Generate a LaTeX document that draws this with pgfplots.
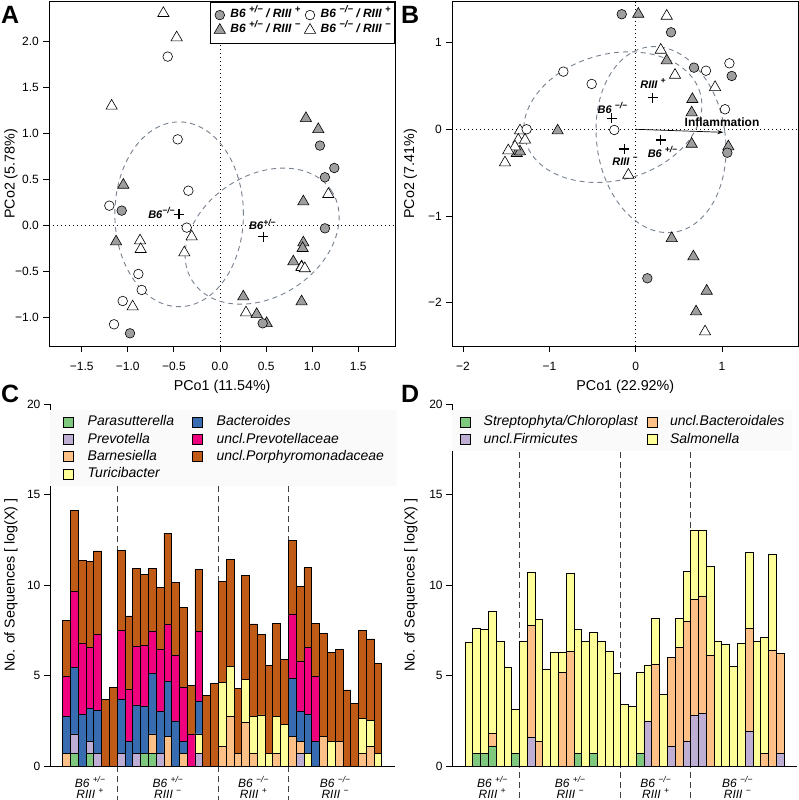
\documentclass[border=0pt]{standalone}
\usepackage{fontspec}
\setmainfont{Liberation Sans}
\usepackage{pgfplots}
\pgfplotsset{compat=1.18}
\usepackage{pgfplotstable}
\usetikzlibrary{arrows.meta}

% RColorBrewer "Accent"
\definecolor{acGreen}{HTML}{7FC97F}
\definecolor{acPurple}{HTML}{BEAED4}
\definecolor{acOrange}{HTML}{FDC086}
\definecolor{acYellow}{HTML}{FFFF99}
\definecolor{acBlue}{HTML}{386CB0}
\definecolor{acPink}{HTML}{F0027F}
\definecolor{acBrown}{HTML}{BF5B17}
\definecolor{ellgray}{RGB}{118,128,142}
\definecolor{ptgray}{HTML}{9E9E9E}

\newcommand{\sups}[1]{\raisebox{0.42em}{\fontsize{8.5}{8.5}\selectfont #1}}
\newcommand{\supl}[1]{\raisebox{0.42em}{\fontsize{9.5}{9.5}\selectfont #1}}

% panel C: segment heights, bottom to top
\pgfplotstableread{
x  g    p    o    t    b    k    r
1  0    0    0.7  0    2.06 2.17 3.12
2  0.7  1.07 0    0    3.68 4.2  4.49
3  0    0    0    0    2.87 3.89 4.6
4  0.7  0.68 0    0    1.81 3.38 4.72
5  0    0.7  0    0    2.39 4.2  4.59
6  0    0    0    0    0    0    3.68
7  0    0    0    0    0    0    4.35
8  0    0.7  0    0    2.98 3.79 4.44
9  0    0    0    0    1.34 2.9  4.05
10 0    0.7  0    0    2.63 3.3  4.29
11 0.7  0    0    0    2.58 3.37 3.94
12 0.7  0    1.07 0    3.35 2.3  3.5
13 0    0.7  0    0    2.3  3.45 3.42
14 0    0    1.62 0    3.04 3.17 5.03
15 0    0    0    0    2.49 3.61 4.05
16 0    0    0.7  0    0.64 3.01 4.42
17 0    0    0    0    0    1.77 2.67
18 0    0.7  0    1.07 1.8  3.87 3.43
19 0    0    0    0    0    0    3.88
20 0    0    0    0    0    0    4.58
21 0    0    1.1  3.5  0    0    5.58
22 0    0    2.72 2.8  0    0    5.91
23 0    0    0.7  0    0    0    3.59
24 0    0    2.39 2.4  0    0    5.74
25 0    0    0.7  2.06 0    0    5.09
26 0    0    0    2.82 0    0    4.45
27 0    0    0    0.7  0    0    4.88
28 0    0    0.7  2.06 0    0    5.12
29 0    0    0    2.32 0    0    3.59
30 0    0    1.62 0    3.22 3.56 4.05
31 0    0.7  0.64 0    1.66 2.77 4.14
32 0    0    0    0.7  2.17 3.68 4.43
33 0    0    0    0    1.34 3.63 2.91
34 0    0    1.62 0    0    0    5.71
35 0    0    0    1.38 0    0    4.88
36 0    0    1.38 0    0    0    5.07
37 0    0    0    0    0    0    4.2
38 0    0    0    0    0    0    3.46
39 0    0    0.7  1.93 0    0    4.85
40 0    0    1.1  1.44 0    0    4.48
41 0    0    0    0.7  0    0    4.97
}\tabC

% panel D: segment heights, bottom to top
\pgfplotstableread{
x  g    p    o    t
1  0    0    0    6.85
2  0.7  0    0    6.89
3  0.7  0    0    6.85
4  1.09 0    0.7  6.76
5  0    0    0    6.9
6  0    0    0    5.47
7  0.7  0    0    2.41
8  0    0    0    6.9
9  0    1.6  6.17 2.95
10 0    0    1.38 6.7
11 0    0    0    5.32
12 0    0    0    6.3
13 0    0    5.19 1.11
14 0    0    6.35 4.29
15 0.7  0    0    6.83
16 0    0    0    6.9
17 0.7  0    0    6.67
18 0    0    0    6.9
19 0    0    0    6.35
20 0    0    0    5.12
21 0    0    0    3.42
22 0    0    0    3.3
23 0.7  0    0    4.45
24 0    2.49 0    3.1
25 0    0    5.64 2.52
26 0    0    0    3.97
27 0    1.1  4.92 0
28 0    0    6.56 1.6
29 0    1.37 6.6  2.8
30 0    2.79 6.42 3.83
31 0    2.9  6.5  3.64
32 0    0    6.1  4.95
33 0    0    0    6.91
34 0    0    0    6.71
35 0    0    0    5.5
36 0    0    0    6.8
37 0    1.93 5.66 4.2
38 0    0    0    6.9
39 0    0    0.7  6.39
40 0    0    6.39 5.31
41 0    0.7  5.5  0
}\tabD

\tikzset{
  ell/.style={ellgray, line width=0.9pt, dash pattern=on 5pt off 4pt},
  zline/.style={black, line width=0.9pt, dash pattern=on 1pt off 3pt},
  grp/.style={black!75, line width=0.9pt, dash pattern=on 6pt off 4pt},
  lab/.style={font=\bfseries\itshape\fontsize{11}{11}\selectfont, inner sep=0pt},
  glab/.style={font=\itshape\fontsize{12}{12}\selectfont, inner sep=0pt, anchor=base},
  leglbl/.style={font=\bfseries\fontsize{25}{25}\selectfont, inner sep=0pt, anchor=base west},
}

\pgfplotsset{
  sqlegend/.style={legend image code/.code={\draw[##1,draw=black,line width=0.6pt] (0pt,-5pt) rectangle (10pt,5pt);}},
  mklegend/.style={legend image code/.code={\draw[##1] plot coordinates {(0pt,0pt)};}},
  pcoa/.style={scale only axis, tick align=outside, major tick length=6pt,
    xtick pos=bottom, ytick pos=left,
    axis line style={line width=0.8pt}, every tick/.style={black,line width=0.8pt},
    ticklabel style={font=\fontsize{12}{12}\selectfont},
    xticklabel style={yshift=-6.5pt}, yticklabel style={xshift=-1pt},
    clip=false},
  bars/.style={scale only axis, width=344.6pt, height=362pt,
    ybar stacked, bar width=1,
    every axis plot post/.append style={sqlegend},
    xmin=-1.14, xmax=43.14, ymin=0, ymax=20,
    axis x line*=bottom, axis y line*=left,
    xtick=\empty, ytick={0,5,10,15,20}, yticklabels={0,5,10,15,20},
    tick align=outside, major tick length=6pt,
    axis line style={line width=0.8pt}, every tick/.style={black,line width=0.8pt},
    ticklabel style={font=\fontsize{12}{12}\selectfont},
    ylabel={No. of Sequences [ log(X) ]}, clip=false,
    legend transposed=true, legend cell align=left},
  seg/.style={fill=#1, draw=black, line width=0.6pt},
  gcirc/.style={only marks, mark=*, mark size=4.8pt, mark options={fill=ptgray, draw=black, line width=0.6pt}},
  ocirc/.style={only marks, mark=*, mark size=4.8pt, mark options={fill=white, draw=black, line width=0.6pt}},
  gtri/.style={only marks, mark=triangle*, mark size=6.5pt, mark options={fill=ptgray, draw=black, line width=0.6pt}},
  otri/.style={only marks, mark=triangle*, mark size=6.5pt, mark options={fill=white, draw=black, line width=0.6pt}},
  cent/.style={only marks, mark=+, mark size=5pt, mark options={line width=1.4pt}, black, forget plot},
}

\begin{document}
\begin{tikzpicture}[x=1pt,y=1pt]
\useasboundingbox (0,0) rectangle (799,800);

% ---------------- A ----------------
\begin{axis}[pcoa, at={(49.3pt,454pt)}, anchor=south west, width=345.7pt, height=344.3pt,
  xmin=-1.851, xmax=1.898, ymin=-1.314, ymax=2.435,
  xtick={-1.5,-1,-0.5,0,0.5,1,1.5}, xticklabels={−1.5,−1.0,−0.5,0.0,0.5,1.0,1.5},
  ytick={-1,-0.5,0,0.5,1,1.5,2}, yticklabels={−1.0,−0.5,0.0,0.5,1.0,1.5,2.0},
  xlabel={PCo1 (11.54\%)}, ylabel={PCo2 (5.78\%)},
  every axis x label/.style={at={(axis description cs:0.5,-0.119)}, anchor=center, font=\fontsize{14.3}{14.3}\selectfont},
  every axis y label/.style={at={(axis description cs:-0.111,0.5)}, rotate=90, anchor=center, font=\fontsize{14.3}{14.3}\selectfont},
  legend columns=2,
  legend style={at={(rel axis cs:1,1)}, anchor=north east, draw=black, line width=0.8pt, fill=white,
    font=\bfseries\itshape\fontsize{12}{12}\selectfont, inner xsep=4pt, inner ysep=5.5pt,
    nodes={inner sep=0pt, text height=10pt, text depth=5pt},
    /tikz/every odd column/.append style={column sep=5pt},
    /tikz/every even column/.append style={column sep=4pt}},
  legend cell align=left]
\draw[zline] (axis cs:0,-1.314) -- (axis cs:0,2.435);
\draw[zline] (axis cs:-1.851,0) -- (axis cs:1.898,0);
\draw[ell] (axis cs:-0.443,0.12) ellipse [x radius=64.3pt, y radius=92.4pt];
\draw[ell, rotate around={33:(axis cs:0.457,-0.118)}] (axis cs:0.457,-0.118) ellipse [x radius=82.9pt, y radius=60.7pt];
\addplot[gtri, forget plot] coordinates {(0.932,1.165) (1.066,1.045) (-1.048,0.439) (0.904,0.258) (-1.127,-0.178) (0.904,-0.189) (0.896,-0.25) (0.795,-0.396) (0.885,-0.45) (0.885,-0.831) (0.253,-0.777) (0.398,-0.969) (0.506,-1.067)};
\addplot[otri, forget plot] coordinates {(-0.614,2.309) (-0.47,2.044) (-1.175,1.3) (1.175,0.338) (-0.867,-0.167) (-0.86,-0.261) (-0.307,-0.123) (-0.387,-0.298) (-0.947,-0.886) (0.282,-0.951) (0.885,-0.457) (0.92,-0.47)};
\addplot[gcirc, forget plot] coordinates {(1.084,0.868) (1.24,0.624) (1.138,0.523) (1.138,-0.033) (-1.066,0.16) (-0.976,-1.176) (0.463,-1.067)};
\addplot[ocirc, forget plot] coordinates {(-0.567,1.837) (-0.459,0.936) (-0.343,0.377) (-1.2,0.214) (-0.361,-0.025) (-0.885,-0.53) (-0.849,-0.704) (-1.055,-0.824) (-1.149,-1.078)};
\addplot[cent] coordinates {(-0.445,0.12) (0.47,-0.124)};
\node[lab, anchor=east] at (axis cs:-0.49,0.135) {B6\sups{−/−}};
\node[lab, anchor=base] at (axis cs:0.46,-0.05) {B6\sups{+/−}};
\addlegendimage{gcirc, mklegend}\addlegendentry{B6 \supl{+/−} / RIII \supl{+}}
\addlegendimage{ocirc, mklegend}\addlegendentry{B6 \supl{−/−} / RIII \supl{+}}
\addlegendimage{gtri, mklegend}\addlegendentry{B6 \supl{+/−} / RIII \supl{−}}
\addlegendimage{otri, mklegend}\addlegendentry{B6 \supl{−/−} / RIII \supl{−}}
\end{axis}

% ---------------- B ----------------
\begin{axis}[pcoa, at={(452.3pt,454pt)}, anchor=south west, width=346pt, height=344.3pt,
  xmin=-2.124, xmax=1.883, ymin=-2.5, ymax=1.472,
  xtick={-2,-1,0,1}, xticklabels={−2,−1,0,1},
  ytick={-2,-1,0,1}, yticklabels={−2,−1,0,1},
  xlabel={PCo1 (22.92\%)}, ylabel={PCo2 (7.41\%)},
  every axis x label/.style={at={(axis description cs:0.5,-0.118)}, anchor=center, font=\fontsize{14.3}{14.3}\selectfont},
  every axis y label/.style={at={(axis description cs:-0.121,0.5)}, rotate=90, anchor=center, font=\fontsize{14.3}{14.3}\selectfont}]
\draw[zline] (axis cs:0,-2.5) -- (axis cs:0,1.472);
\draw[zline] (axis cs:-2.124,0) -- (axis cs:1.883,0);
\draw[ell, rotate around={15:(axis cs:-0.265,0.14)}] (axis cs:-0.265,0.14) ellipse [x radius=90.6pt, y radius=63.1pt];
\draw[ell, rotate around={8:(axis cs:0.293,-0.119)}] (axis cs:0.293,-0.119) ellipse [x radius=64.3pt, y radius=93.5pt];
\addplot[gtri, forget plot] coordinates {(0.03,1.33) (0.359,0.792) (0.656,0.346) (0.648,0.192) (-0.904,-0.016) (0.648,-0.17) (1.073,-0.2) (0.417,-1.258) (0.668,-1.469) (0.822,-1.865) (0.699,-2.104) (-1.378,-0.277) (-1.34,-0.258)};
\addplot[otri, forget plot] coordinates {(0.359,1.307) (0.29,0.915) (0.455,0.626) (0.919,0.484) (-0.085,-0.527) (0.803,-2.335) (-1.34,-0.016) (-1.36,-0.123) (-1.282,-0.123) (-1.398,-0.2) (-1.476,-0.246) (-1.514,-0.385)};
\addplot[gcirc, forget plot] coordinates {(-0.162,1.327) (0.409,1.119) (0.675,0.711) (1.112,0.615) (1.061,-0.27) (0.135,-1.719)};
\addplot[ocirc, forget plot] coordinates {(-0.838,0.665) (-0.51,0.523) (0.814,0.676) (1.085,0.761) (1.034,0.231) (-0.248,-0.008) (-1.263,0.0)};
\addplot[black, line width=0.7pt, -{Stealth[length=6pt,width=4pt]}, forget plot] coordinates {(0,0) (1.015,-0.035)};
\addplot[cent] coordinates {(0.197,0.365) (-0.278,0.127) (0.29,-0.123) (-0.132,-0.227)};
\node[lab, anchor=base] at (axis cs:0.2,0.475) {RIII \sups{+}};
\node[lab, anchor=base] at (axis cs:-0.27,0.185) {B6 \sups{−/−}};
\node[lab, anchor=base] at (axis cs:0.31,-0.32) {B6 \sups{+/−}};
\node[lab, anchor=base] at (axis cs:-0.125,-0.415) {RIII \sups{−}};
\node[font=\bfseries\fontsize{12}{12}\selectfont, inner sep=0pt] at (axis cs:1.0,0.076) {Inflammation};
\end{axis}

% ---------------- C ----------------
\begin{axis}[bars, at={(49.9pt,34pt)}, anchor=south west,
  every axis y label/.style={at={(axis description cs:-0.113,0.5)}, rotate=90, anchor=center, font=\fontsize{14.3}{14.3}\selectfont},
  legend columns=4,
  legend style={at={(axis description cs:0,0.983)}, anchor=north west, draw=none, fill=black!2,
    inner xsep=13pt, inner ysep=3pt, font=\itshape\fontsize{14}{14}\selectfont,
    nodes={inner sep=0pt, text height=12.5pt, text depth=4.8pt},
    /tikz/every odd column/.append style={column sep=14pt},
    /tikz/every even column/.append style={column sep=18pt}}]
\addplot[seg=acGreen] table[x=x,y=g] {\tabC}; \addlegendentry{Parasutterella}
\addplot[seg=acPurple] table[x=x,y=p] {\tabC}; \addlegendentry{Prevotella}
\addplot[seg=acOrange] table[x=x,y=o] {\tabC}; \addlegendentry{Barnesiella}
\addplot[seg=acYellow] table[x=x,y=t] {\tabC}; \addlegendentry{Turicibacter}
\addplot[seg=acBlue] table[x=x,y=b] {\tabC}; \addlegendentry{Bacteroides}
\addplot[seg=acPink] table[x=x,y=k] {\tabC}; \addlegendentry{uncl.Prevotellaceae}
\addplot[seg=acBrown] table[x=x,y=r] {\tabC}; \addlegendentry{uncl.Porphyromonadaceae}
\draw[grp] (axis cs:7.5,15.47) -- (axis cs:7.5,-1.95);
\draw[grp] (axis cs:20.5,15.47) -- (axis cs:20.5,-1.95);
\draw[grp] (axis cs:29.5,15.47) -- (axis cs:29.5,-1.95);
\node[glab] at (axis cs:4,-1.215) {B6 \sups{+/−}};
\node[glab] at (axis cs:4,-1.82) {RIII \sups{+}};
\node[glab] at (axis cs:14,-1.215) {B6 \sups{+/−}};
\node[glab] at (axis cs:14,-1.82) {RIII \sups{−}};
\node[glab] at (axis cs:25,-1.215) {B6 \sups{−/−}};
\node[glab] at (axis cs:25,-1.82) {RIII \sups{+}};
\node[glab] at (axis cs:35.5,-1.215) {B6 \sups{−/−}};
\node[glab] at (axis cs:35.5,-1.82) {RIII \sups{−}};
\end{axis}

% ---------------- D ----------------
\begin{axis}[bars, at={(452.2pt,34pt)}, anchor=south west,
  every axis y label/.style={at={(axis description cs:-0.12,0.5)}, rotate=90, anchor=center, font=\fontsize{14.3}{14.3}\selectfont},
  legend columns=2,
  legend style={at={(axis description cs:0,0.983)}, anchor=north west, draw=none, fill=black!2,
    inner xsep=8pt, inner ysep=3pt, font=\itshape\fontsize{14}{14}\selectfont,
    nodes={inner sep=0pt, text height=12.5pt, text depth=4.8pt},
    /tikz/every odd column/.append style={column sep=12.7pt},
    /tikz/every even column/.append style={column sep=9pt}}]
\addplot[seg=acGreen] table[x=x,y=g] {\tabD}; \addlegendentry{Streptophyta/Chloroplast}
\addplot[seg=acPurple] table[x=x,y=p] {\tabD}; \addlegendentry{uncl.Firmicutes}
\addplot[seg=acOrange] table[x=x,y=o] {\tabD}; \addlegendentry{uncl.Bacteroidales}
\addplot[seg=acYellow] table[x=x,y=t] {\tabD}; \addlegendentry{Salmonella}
\draw[grp] (axis cs:7.5,17.35) -- (axis cs:7.5,-1.95);
\draw[grp] (axis cs:20.5,17.35) -- (axis cs:20.5,-1.95);
\draw[grp] (axis cs:29.5,17.35) -- (axis cs:29.5,-1.95);
\node[glab] at (axis cs:4,-1.215) {B6 \sups{+/−}};
\node[glab] at (axis cs:4,-1.82) {RIII \sups{+}};
\node[glab] at (axis cs:14,-1.215) {B6 \sups{+/−}};
\node[glab] at (axis cs:14,-1.82) {RIII \sups{−}};
\node[glab] at (axis cs:25,-1.215) {B6 \sups{−/−}};
\node[glab] at (axis cs:25,-1.82) {RIII \sups{+}};
\node[glab] at (axis cs:35.5,-1.215) {B6 \sups{−/−}};
\node[glab] at (axis cs:35.5,-1.82) {RIII \sups{−}};
\end{axis}

% panel letters
\node[leglbl] at (1,776) {A};
\node[leglbl] at (401,776) {B};
\node[leglbl] at (1,397) {C};
\node[leglbl] at (401,397) {D};
\end{tikzpicture}
\end{document}
